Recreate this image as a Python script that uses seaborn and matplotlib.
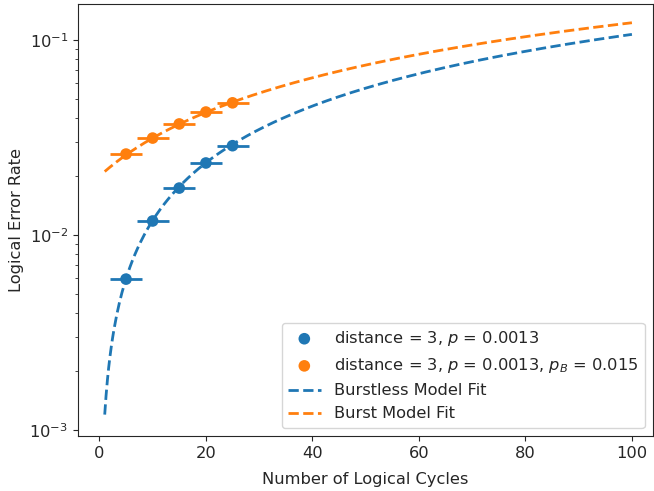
import numpy as np
import pandas as pd
import matplotlib
matplotlib.use("Agg")
import matplotlib.pyplot as plt
import seaborn as sns

# Measured logical error rates vs. number of logical cycles
cycles = [5, 10, 15, 20, 25]
ler_burstless = [0.00594, 0.0118, 0.0174, 0.0234, 0.0287]
ler_burst = [0.0260, 0.0314, 0.0371, 0.0427, 0.0476]
cycle_err = [3, 3, 3, 3, 3]

# Fitted model parameters
p_fit = 0.0012       # per-cycle logical flip probability
p_burst_fit = 0.02   # additional flip probability from bursts
fit_cycles = np.linspace(1, 100, 400)

label_burstless = r"distance = 3, $p$ = 0.0013"
label_burst = r"distance = 3, $p$ = 0.0013, $p_B$ = 0.015"


def model(n, p, pb=0.0):
    return 0.5 * (1 - (1 - 2 * p) ** n * (1 - 2 * pb))


fit_df = pd.DataFrame({
    "n": np.concatenate([fit_cycles, fit_cycles]),
    "ler": np.concatenate([model(fit_cycles, p_fit), model(fit_cycles, p_fit, p_burst_fit)]),
    "fit": ["Burstless Model Fit"] * len(fit_cycles) + ["Burst Model Fit"] * len(fit_cycles),
})

sns.set_style("ticks")
plt.rcParams["font.family"] = ["DejaVu Sans"]
fs = 11.7
blue, orange = "#1f77b4", "#ff7f0e"

fig, ax = plt.subplots(figsize=(6.54, 4.91), dpi=100)
fig.subplots_adjust(left=0.119, right=0.998, top=0.992, bottom=0.112)

ax.errorbar(cycles, ler_burstless, xerr=cycle_err, fmt="none", ecolor=blue, elinewidth=2)
ax.errorbar(cycles, ler_burst, xerr=cycle_err, fmt="none", ecolor=orange, elinewidth=2)
sns.scatterplot(x=cycles, y=ler_burstless, color=blue, s=70, edgecolor="none",
                label=label_burstless, ax=ax, zorder=3)
sns.scatterplot(x=cycles, y=ler_burst, color=orange, s=70, edgecolor="none",
                label=label_burst, ax=ax, zorder=3)
sns.lineplot(data=fit_df, x="n", y="ler", hue="fit", palette=[blue, orange],
             linestyle="--", linewidth=2, ax=ax)

ax.set_yscale("log")
ax.set_xlim(-4.05, 103.9)
ax.set_ylim(9.32e-4, 0.153)
ax.set_xlabel("Number of Logical Cycles", fontsize=fs, labelpad=8)
ax.set_ylabel("Logical Error Rate", fontsize=fs)
ax.tick_params(axis="both", which="major", labelsize=fs)
for side in ["top", "right"]:
    ax.spines[side].set_visible(True)

handles, labels = ax.get_legend_handles_labels()
for h in handles:
    if isinstance(h, matplotlib.lines.Line2D):
        h.set_linestyle("--")
ax.legend(handles, labels, loc="lower right", fontsize=fs)

fig.savefig("out.png", dpi=100)
